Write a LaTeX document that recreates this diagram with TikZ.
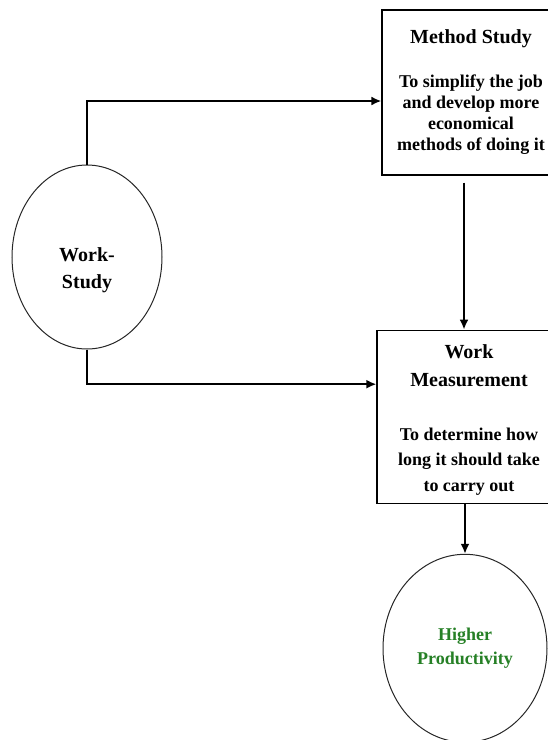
\documentclass[tikz,border=0pt]{standalone}
\usepackage{fontspec}
\setmainfont{Liberation Serif}
\usetikzlibrary{shapes.geometric}
\usetikzlibrary{arrows.meta}
\usetikzlibrary{positioning}
\definecolor{prodgreen}{RGB}{38,128,38}
\tikzset{
    block/.style={
           rectangle,
           draw=black, line width=1.2pt,
           inner sep=2pt,
           align=center,
           font=\bfseries\fontsize{18}{21}\selectfont,
           },
    bubble/.style={
           ellipse,
           draw=black!85, line width=1pt,
           inner sep=0pt,
           align=center,
           font=\bfseries\fontsize{20}{27}\selectfont,
           },
    flow/.style={
           line width=2.5pt,
           -{Latex[length=10pt,width=9pt]},
           },
}
\newcommand{\headline}[1]{{\fontsize{20}{21}\selectfont #1}}

\begin{document}
\begin{tikzpicture}[x=1pt,y=-1pt]
      \useasboundingbox (0,0) rectangle (548,740);
      \clip (0,0) rectangle (548,740);
      \node[bubble, minimum width=150pt, minimum height=184pt] (ws) at (87,257) {\rule{0pt}{40pt}Work-\\ Study};
      \node[block, minimum width=178pt, minimum height=165pt] (ms) at (471,92.5)
            {\headline{Method Study}\\[23pt] To simplify the job\\ and develop more\\ economical\\ methods of doing it};
      \node[block, minimum width=184pt, minimum height=173pt,
            font=\bfseries\fontsize{18}{25.5}\selectfont,
            below=154pt of ms, xshift=-2pt] (wm)
            {\rule{0pt}{20pt}\headline{Work}\\[2.5pt] \headline{Measurement}\\[28.5pt] To determine how\\ long it should take\\ to carry out};
      \node[bubble, minimum width=164pt, minimum height=188pt, text=prodgreen,
            font=\bfseries\fontsize{18}{24}\selectfont,
            below=50pt of wm, xshift=-4pt] (prod) {Higher\\ Productivity};
      \draw[flow] (ws.north) |- ([yshift=-8.5pt]ms.west);
      \draw[flow] (ws.south) |- ([yshift=32.5pt]wm.west);
      \draw[flow, shorten <=7pt] ([xshift=-7pt]ms.south) -- ([xshift=-7pt]ms.south |- wm.north);
      \draw[flow] (prod.north |- wm.south) -- (prod.north);
\end{tikzpicture}
\end{document}
